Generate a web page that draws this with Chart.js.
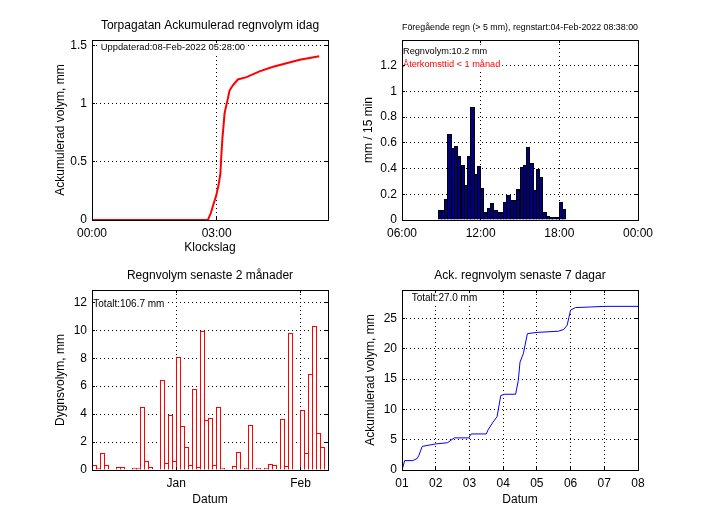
<!DOCTYPE html>
<html><head><meta charset="utf-8">
<script src="https://cdn.jsdelivr.net/npm/chart.js@4/dist/chart.umd.min.js"></script>
<style>
html,body{margin:0;padding:0;background:#fff;}
#wrap{position:relative;width:705px;height:528px;overflow:hidden;background:#fff;}
canvas{position:absolute;}
</style></head><body>
<div id="wrap">
<canvas id="c1" width="352" height="264" style="left:0;top:0;width:352px;height:264px"></canvas>
<canvas id="c2" width="353" height="264" style="left:352px;top:0;width:353px;height:264px"></canvas>
<canvas id="c3" width="352" height="264" style="left:0;top:264px;width:352px;height:264px"></canvas>
<canvas id="c4" width="353" height="264" style="left:352px;top:264px;width:353px;height:264px"></canvas>
</div>
<script>
const FONT = "'Liberation Sans', Arial, Helvetica, sans-serif";

// ---- Panel 1: accumulated rain today (hours after midnight, mm) ----
const todayHours = [0, 2.79, 2.86, 2.91, 2.99, 3.05, 3.09, 3.11, 3.14, 3.17, 3.19, 3.23, 3.27, 3.31, 3.39, 3.51, 3.72, 4.03, 4.36, 4.68, 5.00, 5.47];
const todayAcc   = [0, 0, 0.06, 0.12, 0.21, 0.31, 0.40, 0.54, 0.71, 0.83, 0.915, 0.985, 1.045, 1.115, 1.16, 1.21, 1.23, 1.28, 1.32, 1.35, 1.38, 1.41];
const todayXTicks = [0, 3];
const todayYTicks = [0, 0.5, 1, 1.5];

// ---- Panel 2: previous rain event, mm per 15 min ----
const eventStartHour = 8.75;   // 08:45
const eventStepHours = 0.25;   // 15 min
const eventRain = [0.078, 0.078, 0.16, 0.67, 0.56, 0.575, 0.50, 0.43, 0.27, 0.50, 0.88, 0.36, 0.42, 0.25,
                   0.06, 0.09, 0.13, 0.08, 0.06, 0.06, 0.14, 0.195, 0.155, 0.155, 0.24, 0.415, 0.43, 0.565,
                   0.44, 0.23, 0.40, 0.335, 0.06, 0.03, 0.02, 0.02, 0.02, 0.14, 0.085];
const eventXTicks = [6, 12, 18, 24];
const eventYTicks = [0, 0.2, 0.4, 0.6, 0.8, 1, 1.2];

// ---- Panel 3: daily rain last 2 months (day index relative to 1 Jan 2022) ----
const dailyFirstDay = -21;     // 11 Dec 2021
const dailyRain = [0.33, 0.12, 1.19, 0.33, 0, 0, 0.19, 0.19, 0, 0, 0.12, 0.12, 4.49, 0.62, 0.19, 0, 0,
                   6.44, 0.48, 3.91, 0.64, 8.07, 3.13, 1.62, 0.33, 5.78, 0.19, 9.93, 3.56, 3.70, 0.33,
                   4.49, 0.12, 0, 0, 0.26, 1.26, 0, 0.12, 3.2, 0, 0.12, 0, 0.12, 0.43, 0.33, 0, 3.63,
                   0.26, 9.79, 0, 0, 4.30, 1.19, 6.85, 10.29, 2.62, 1.62];
const dailyXTicks = [0, 31];
const dailyXLabels = ['Jan', 'Feb'];
const dailyYTicks = [0, 2, 4, 6, 8, 10, 12];

// ---- Panel 4: accumulated rain last 7 days (day of February, mm) ----
const weekDay = [1.0, 1.08, 1.32, 1.45, 1.5, 1.6, 1.8, 2.0, 2.35, 2.55, 2.98, 3.05, 3.5, 3.55, 3.7, 3.82, 3.93,
                 4.05, 4.37, 4.45, 4.5, 4.6, 4.65, 4.72, 5.0, 5.64, 5.8, 5.9, 6.0, 6.15, 6.6, 7.0, 8.0];
const weekAcc = [0, 1.55, 1.55, 1.9, 2.4, 3.9, 4.1, 4.3, 4.5, 5.3, 5.3, 5.95, 5.95, 6.6, 7.9, 8.8, 12.3,
                 12.5, 12.5, 14.8, 17.8, 19.2, 20.6, 22.5, 22.7, 22.9, 23.2, 23.9, 26.4, 26.8, 26.9, 27.0, 27.0];
const weekXTicks = [1, 2, 3, 4, 5, 6, 7, 8];
const weekYTicks = [0, 5, 10, 15, 20, 25];

function hhmm(h) { const hh = ((Math.round(h) % 24) + 24) % 24; return String(hh).padStart(2, '0') + ':00'; }
function num(v) { return String(Math.round(v * 100) / 100); }
function col(p) { return Math.round(p - 0.5); }   // same pixel column Chart.js uses for 1px grid lines

function framePlugin(texts) {
  return {
    id: 'frame',
    afterDatasetsUpdate(chart) {
      // snap bars to whole pixels so neighbouring bars share one border line
      chart.data.datasets.forEach((ds, di) => {
        const meta = chart.getDatasetMeta(di);
        if (meta.type !== 'bar') return;
        meta.data.forEach(el => {
          if (el.skip || el.y == null || isNaN(el.y)) return;
          const l = col(el.x - el.width / 2);
          const r = col(el.x + el.width / 2);
          el.x = (l + r + 1) / 2;
          el.width = r - l + 1;
          el.y = Math.round(el.y);
        });
      });
    },
    beforeDatasetsDraw(chart) {
      const {ctx, chartArea: a} = chart;
      ctx.save();
      texts.forEach(t => {
        ctx.font = t.size + 'px ' + FONT;
        const w = ctx.measureText(t.text).width;
        ctx.fillStyle = '#fff';
        ctx.fillRect(a.left + t.dx - 1, a.top + t.dy - t.size * 0.75, w + 3, t.size * 1.5);
        ctx.fillStyle = t.color || '#000';
        ctx.textBaseline = 'middle';
        ctx.textAlign = 'left';
        ctx.fillText(t.text, a.left + t.dx, a.top + t.dy);
      });
      ctx.restore();
    },
    afterDraw(chart) {
      const {ctx, chartArea: a, scales} = chart;
      const L = Math.round(a.left), R = Math.round(a.right), T = Math.round(a.top), B = Math.round(a.bottom);
      ctx.save();
      ctx.strokeStyle = '#000';
      ctx.lineWidth = 1;
      ctx.setLineDash([]);
      ctx.beginPath();
      scales.x.ticks.forEach(t => {
        const p = col(scales.x.getPixelForValue(t.value)) + 0.5;
        ctx.moveTo(p, B); ctx.lineTo(p, B - 3);
        ctx.moveTo(p, T); ctx.lineTo(p, T + 3);
      });
      scales.y.ticks.forEach(t => {
        const p = col(scales.y.getPixelForValue(t.value)) + 0.5;
        ctx.moveTo(L, p); ctx.lineTo(L + 3, p);
        ctx.moveTo(R, p); ctx.lineTo(R - 3, p);
      });
      ctx.stroke();
      ctx.strokeRect(L + 0.5, T + 0.5, R - L, B - T);
      ctx.restore();
    }
  };
}

function axis(o) {
  return {
    type: 'linear', min: o.min, max: o.max, offset: false,
    afterBuildTicks: s => { s.ticks = o.ticks.map(v => ({value: v})); },
    afterFit: s => { if (o.width != null) s.width = o.width; if (o.height != null) s.height = o.height; },
    ticks: { autoSkip: false, maxRotation: 0, minRotation: 0, padding: o.pad, color: '#000',
             font: {family: FONT, size: 12}, callback: o.fmt },
    grid: { color: '#000', lineWidth: 1, drawTicks: false, borderDash: [1, 3], offset: false },
    border: { display: false, dash: [1, 3] },
    title: { display: true, text: o.title, color: '#000', font: {family: FONT, size: 12, lineHeight: 1.2}, padding: o.titlePad }
  };
}

function make(id, type, datasets, xo, yo, title, tpad, tsize, padRight, texts) {
  return new Chart(document.getElementById(id), {
    type: type,
    data: { datasets: datasets },
    options: {
      responsive: false, animation: false, devicePixelRatio: 1,
      layout: { padding: { left: 0, right: padRight, top: 0, bottom: 0 } },
      plugins: {
        legend: { display: false }, tooltip: { enabled: false },
        title: { display: true, text: title, color: '#000', fullSize: false,
                 font: { family: FONT, size: tsize, weight: 'normal', lineHeight: 1 }, padding: tpad }
      },
      scales: { x: axis(xo), y: axis(yo) }
    },
    plugins: [framePlugin(texts)]
  });
}

// Panel 1
make('c1', 'line', [{
    data: todayHours.map((h, i) => ({x: h, y: todayAcc[i]})),
    borderColor: '#ff0000', borderWidth: 2, pointRadius: 0, tension: 0, fill: false
  }],
  { min: 0, max: 5.68, ticks: todayXTicks, fmt: v => hhmm(v), pad: 6.5, height: 44, title: 'Klockslag', titlePad: {top: 0, bottom: 9.5} },
  { min: 0, max: 1.55, ticks: todayYTicks, fmt: v => num(v), pad: 5, width: 92, title: 'Ackumulerad volym, mm', titlePad: {top: 53.3, bottom: 0} },
  'Torpagatan Ackumulerad regnvolym idag', {top: 20, bottom: 8}, 12, 24,
  [{text: 'Uppdaterad:08-Feb-2022 05:28:00', size: 9.4, dx: 8.7, dy: 7.8}]);

// Panel 2
make('c2', 'bar', [{
    data: eventRain.map((v, i) => ({x: eventStartHour + (i + 0.5) * eventStepHours, y: v})),
    backgroundColor: '#000080', borderColor: '#000000', borderWidth: 1, inflateAmount: 0,
    barPercentage: 1, categoryPercentage: 1
  }],
  { min: 6, max: 24, ticks: eventXTicks, fmt: v => hhmm(v), pad: 6.5, height: 44, title: '', titlePad: {top: 0, bottom: 0} },
  { min: 0, max: 1.4, ticks: eventYTicks, fmt: v => num(v), pad: 5, width: 50, title: 'mm / 15 min', titlePad: {top: 9.8, bottom: 0} },
  'Föregående regn (> 5 mm), regnstart:04-Feb-2022 08:38:00', {top: 22.4, bottom: 8.4}, 9.2, 67,
  [{text: 'Regnvolym:10.2 mm', size: 9.2, dx: 1, dy: 11.7},
   {text: 'Återkomsttid < 1 månad', size: 9.2, dx: 1, dy: 24.5, color: '#ff0000'}]);

// Panel 3
make('c3', 'bar', [{
    data: dailyRain.map((v, i) => ({x: dailyFirstDay + i + 0.5, y: v > 0 ? v : null})),
    backgroundColor: '#ffffff', borderColor: '#ff0000', borderWidth: 1, inflateAmount: 0,
    barPercentage: 1, categoryPercentage: 1
  }],
  { min: -21, max: 37.85, ticks: dailyXTicks, fmt: v => dailyXLabels[dailyXTicks.indexOf(v)], pad: 6.5, height: 58, title: 'Datum', titlePad: {top: 0, bottom: 21} },
  { min: 0, max: 12.88, ticks: dailyYTicks, fmt: v => num(v), pad: 5, width: 92, title: 'Dygnsvolym, mm', titlePad: {top: 53.3, bottom: 0} },
  'Regnvolym senaste 2 månader', {top: 6, bottom: 8}, 12, 24,
  [{text: 'Totalt:106.7 mm', size: 10, dx: 1.3, dy: 14.2}]);

// Panel 4
make('c4', 'line', [{
    data: weekDay.map((d, i) => ({x: d, y: weekAcc[i]})),
    borderColor: '#0000ff', borderWidth: 1, pointRadius: 0, tension: 0, fill: false
  }],
  { min: 1, max: 8, ticks: weekXTicks, fmt: v => String(v).padStart(2, '0'), pad: 6.5, height: 58, title: 'Datum', titlePad: {top: 0, bottom: 21} },
  { min: 0, max: 29.7, ticks: weekYTicks, fmt: v => num(v), pad: 5, width: 50, title: 'Ackumulerad volym, mm', titlePad: {top: 11.8, bottom: 0} },
  'Ack. regnvolym senaste 7 dagar', {top: 6, bottom: 8}, 12, 67,
  [{text: 'Totalt:27.0 mm', size: 10, dx: 9.7, dy: 8.3}]);
</script>
</body></html>
